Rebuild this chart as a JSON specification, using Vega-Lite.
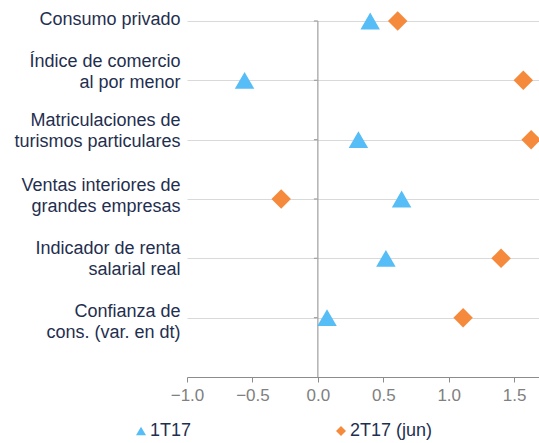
{
  "$schema": "https://vega.github.io/schema/vega-lite/v6.json",
  "width": 352,
  "height": 356,
  "autosize": {"type": "none"},
  "padding": {"left": 187, "top": 21, "right": 0, "bottom": 66},
  "background": "white",
  "config": {"view": {"stroke": null}, "font": "Liberation Sans"},
  "layer": [
    {
      "data": {"values": [{"value": 0, "pos": 0, "pos2": 6}]},
      "mark": {"type": "rule", "color": "#a6a6a6", "strokeWidth": 1.3},
      "encoding": {
        "x": {
          "field": "value", "type": "quantitative",
          "scale": {"domain": [-1, 1.69], "nice": false, "zero": false},
          "axis": {
            "title": null, "values": [-1, -0.5, 0, 0.5, 1, 1.5], "format": ".1f",
            "grid": false, "domainColor": "#8c8c8c", "tickColor": "#8c8c8c", "tickSize": 5,
            "labelColor": "#808080", "labelFontSize": 17, "labelPadding": 5, "labelFlush": false
          }
        },
        "y": {
          "field": "pos", "type": "quantitative",
          "scale": {"domain": [0, 6], "nice": false},
          "axis": {
            "title": null, "values": [1, 2, 3, 4, 5, 6], "grid": true, "gridColor": "#d9d9d9",
            "domain": false, "ticks": false, "labelPadding": 7, "labelFontSize": 18,
            "labelColor": "#1f2f4f", "labelLineHeight": 21, "labelBaseline": "middle", "labelLimit": 260,
            "labelExpr": "datum.value==6?'Consumo privado':datum.value==5?['Índice de comercio','al por menor']:datum.value==4?['Matriculaciones de','turismos particulares']:datum.value==3?['Ventas interiores de','grandes empresas']:datum.value==2?['Indicador de renta','salarial real']:datum.value==1?['Confianza de','cons. (var. en dt)']:''",
            "labelOffset": {"condition": [
              {"test": "datum.value==6", "value": -2},
              {"test": "datum.value==5", "value": -19},
              {"test": "datum.value==4", "value": -19},
              {"test": "datum.value==3", "value": -14},
              {"test": "datum.value==2", "value": -10},
              {"test": "datum.value==1", "value": -6}
            ], "value": 0}
          }
        },
        "y2": {"field": "pos2"}
      }
    },
    {
      "data": {"values": [
        {"value": -0.03, "value2": 0, "pos": 1},
        {"value": -0.03, "value2": 0, "pos": 2},
        {"value": -0.03, "value2": 0, "pos": 3},
        {"value": -0.03, "value2": 0, "pos": 4},
        {"value": -0.03, "value2": 0, "pos": 5},
        {"value": -0.03, "value2": 0, "pos": 6}
      ]},
      "mark": {"type": "rule", "color": "#a6a6a6", "strokeWidth": 1.3},
      "encoding": {
        "x": {"field": "value", "type": "quantitative"},
        "x2": {"field": "value2"},
        "y": {"field": "pos", "type": "quantitative"}
      }
    },
    {
      "data": {"values": [
        {"indicador": "Consumo privado", "pos": 6, "serie": "1T17", "value": 0.40},
        {"indicador": "Consumo privado", "pos": 6, "serie": "2T17 (jun)", "value": 0.61},
        {"indicador": "Índice de comercio al por menor", "pos": 5, "serie": "1T17", "value": -0.56},
        {"indicador": "Índice de comercio al por menor", "pos": 5, "serie": "2T17 (jun)", "value": 1.57},
        {"indicador": "Matriculaciones de turismos particulares", "pos": 4, "serie": "1T17", "value": 0.31},
        {"indicador": "Matriculaciones de turismos particulares", "pos": 4, "serie": "2T17 (jun)", "value": 1.63},
        {"indicador": "Ventas interiores de grandes empresas", "pos": 3, "serie": "1T17", "value": 0.64},
        {"indicador": "Ventas interiores de grandes empresas", "pos": 3, "serie": "2T17 (jun)", "value": -0.28},
        {"indicador": "Indicador de renta salarial real", "pos": 2, "serie": "1T17", "value": 0.52},
        {"indicador": "Indicador de renta salarial real", "pos": 2, "serie": "2T17 (jun)", "value": 1.40},
        {"indicador": "Confianza de cons. (var. en dt)", "pos": 1, "serie": "1T17", "value": 0.07},
        {"indicador": "Confianza de cons. (var. en dt)", "pos": 1, "serie": "2T17 (jun)", "value": 1.11}
      ]},
      "mark": {"type": "point", "filled": true, "opacity": 1, "size": 380, "clip": false},
      "encoding": {
        "x": {"field": "value", "type": "quantitative"},
        "y": {"field": "pos", "type": "quantitative"},
        "shape": {
          "field": "serie", "type": "nominal",
          "scale": {"domain": ["1T17", "2T17 (jun)"], "range": ["triangle-up", "diamond"]},
          "legend": {
            "title": null, "orient": "none", "legendX": -55, "legendY": 401, "direction": "horizontal",
            "columnPadding": 140, "labelFontSize": 18, "labelColor": "#1f2f4f", "symbolSize": 100,
            "padding": 0, "labelOffset": 0
          }
        },
        "color": {
          "field": "serie", "type": "nominal",
          "scale": {"domain": ["1T17", "2T17 (jun)"], "range": ["#57bdf7", "#f58a3c"]}
        }
      }
    }
  ]
}
